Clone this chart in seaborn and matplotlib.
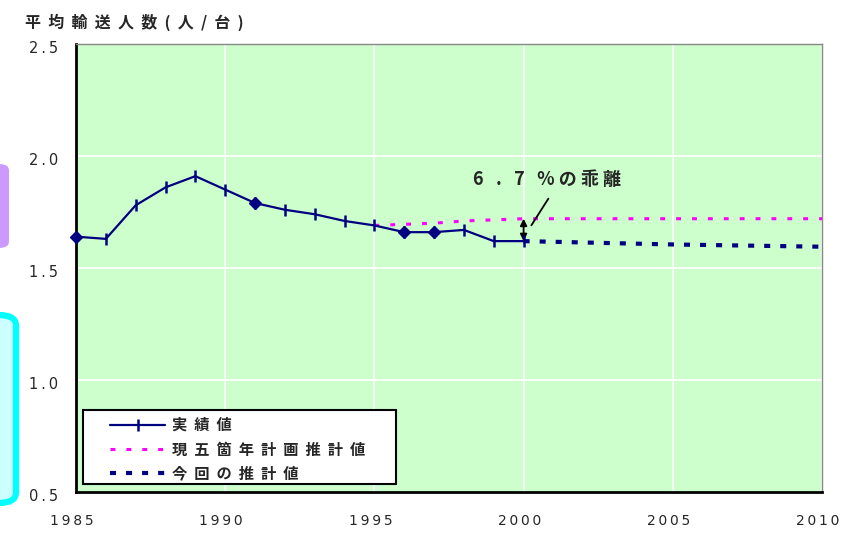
import numpy as np
import pandas as pd
import seaborn as sns
import matplotlib.pyplot as plt
import matplotlib.transforms as mtransforms
from matplotlib.patches import FancyBboxPatch, Rectangle

# 実績値 (1985-2000)
years_actual = list(range(1985, 2001))
actual = [1.64, 1.63, 1.78, 1.86, 1.91, 1.85, 1.79, 1.76, 1.74, 1.71,
          1.69, 1.66, 1.66, 1.67, 1.62, 1.62]
diamond_years = [1985, 1991, 1996, 1997]

# 現五箇年計画推計値
years_plan = [1995, 1996, 1997, 1998, 1999, 2000, 2005, 2010]
plan = [1.69, 1.695, 1.70, 1.71, 1.715, 1.72, 1.72, 1.72]

# 今回の推計値
years_new = [2000, 2005, 2010]
new_est = [1.62, 1.605, 1.595]

x_ticks = [1985, 1990, 1995, 2000, 2005, 2010]
y_ticks = [0.5, 1.0, 1.5, 2.0, 2.5]
labels = ['実績値', '現五箇年計画推計値', '今回の推計値']

sns.set_style('white')
plt.rcParams['font.family'] = ['Noto Sans CJK JP', 'DejaVu Sans']

def spaced(s, sep='\u2009'):
    return sep.join(s)

fig = plt.figure(figsize=(8.45, 5.33), dpi=100)
ax = fig.add_axes([76 / 845, 41 / 533, 746 / 845, 448 / 533])
ax.set_facecolor('#ccffcc')

df_a = pd.DataFrame({'year': years_actual, 'value': actual})
df_p = pd.DataFrame({'year': years_plan, 'value': plan})
df_n = pd.DataFrame({'year': years_new, 'value': new_est})

sns.lineplot(data=df_p, x='year', y='value', ax=ax, color='#ff00ff',
             linewidth=2.2, linestyle=(0, (1.6, 3.6)), label=labels[1], zorder=3)
sns.lineplot(data=df_n, x='year', y='value', ax=ax, color='#000080',
             linewidth=3, linestyle=(0, (1.45, 2.4)), label=labels[2], zorder=3)
sns.lineplot(data=df_a, x='year', y='value', ax=ax, color='#000080',
             linewidth=1.6, marker='|', markersize=9, markeredgewidth=1.8,
             markeredgecolor='#000080', label=labels[0], zorder=4)
df_d = df_a[df_a['year'].isin(diamond_years)]
ax.plot(df_d['year'], df_d['value'], linestyle='none', marker='D',
        markersize=6.5, color='#000080', zorder=5, clip_on=False)
ax.get_legend().remove()

ax.set_xlim(1985, 2010)
ax.set_ylim(0.5, 2.5)
ax.set_xticks(x_ticks)
ax.set_yticks(y_ticks)
ax.set_xticklabels([spaced(str(t)) for t in x_ticks], fontsize=10,
                   family='DejaVu Sans')
ax.set_yticklabels([spaced(f'{t:.1f}') for t in y_ticks], fontsize=10.5,
                   family='DejaVu Sans')
ax.tick_params(direction='in', length=6, width=1.5, color='black')
ax.tick_params(axis='y', pad=13)
ax.tick_params(axis='x', pad=16)
dx = mtransforms.ScaledTranslation(-4 / 100, 0, fig.dpi_scale_trans)
dy = mtransforms.ScaledTranslation(0, -3 / 100, fig.dpi_scale_trans)
for lab in ax.get_xticklabels():
    lab.set_transform(lab.get_transform() + dx)
for lab in ax.get_yticklabels():
    lab.set_transform(lab.get_transform() + dy)
ax.grid(True, color='white', linewidth=1.2)
ax.set_axisbelow(True)
ax.set_xlabel('')
ax.set_ylabel('')
for side in ['left', 'bottom']:
    ax.spines[side].set_color('black')
    ax.spines[side].set_linewidth(2)
for side in ['top', 'right']:
    ax.spines[side].set_color('#888888')
    ax.spines[side].set_linewidth(1)

# 乖離の注記
ax.annotate('', xy=(2000, 1.62), xytext=(2000, 1.72),
            arrowprops=dict(arrowstyle='<|-|>', color='black', lw=1.3,
                            mutation_scale=10, shrinkA=0, shrinkB=0))
ax.annotate('', xy=(2000.21, 1.68), xytext=(2000.88, 1.82),
            arrowprops=dict(arrowstyle='-', color='black', lw=1.3))
ax.text(2000.78, 1.895, '6   .   7   % の 乖 離', fontsize=13,
        fontweight='bold', ha='center', va='center')

# 凡例
handles, labs = ax.get_legend_handles_labels()
order = [2, 0, 1]
leg = fig.legend([handles[i] for i in order],
                 [spaced(labs[i], '  ') for i in order],
                 loc='upper left', bbox_to_anchor=(110 / 845, 1 - 417 / 533),
                 fontsize=11, frameon=False, handlelength=3.6,
                 handletextpad=0.45, borderpad=0, labelspacing=0.55,
                 borderaxespad=0)
for t in leg.get_texts():
    t.set_fontweight('bold')
fig.patches.append(Rectangle((83 / 845, 1 - 484 / 533), 313 / 845, 74 / 533,
                             transform=fig.transFigure, facecolor='white',
                             edgecolor='black', linewidth=1.5, zorder=5))
leg.set_zorder(6)

fig.text(25 / 845, 1 - 22 / 533, spaced('平均輸送人数(人/台)', '  '), fontsize=11.5,
         fontweight='bold', ha='left', va='center')

# 左端の図形
fig.patches.append(FancyBboxPatch((-20 / 845, 1 - 248 / 533), 29 / 845, 84 / 533,
                                  boxstyle='round,pad=0,rounding_size=0.012',
                                  transform=fig.transFigure, facecolor='#cc99ff',
                                  edgecolor='none'))
fig.patches.append(FancyBboxPatch((-20 / 845, 1 - 503 / 533), 36 / 845, 188 / 533,
                                  boxstyle='round,pad=0,rounding_size=0.02',
                                  transform=fig.transFigure, facecolor='#ccffff',
                                  edgecolor='#00ffff', linewidth=4.5))

fig.savefig('out.png', dpi=100)
